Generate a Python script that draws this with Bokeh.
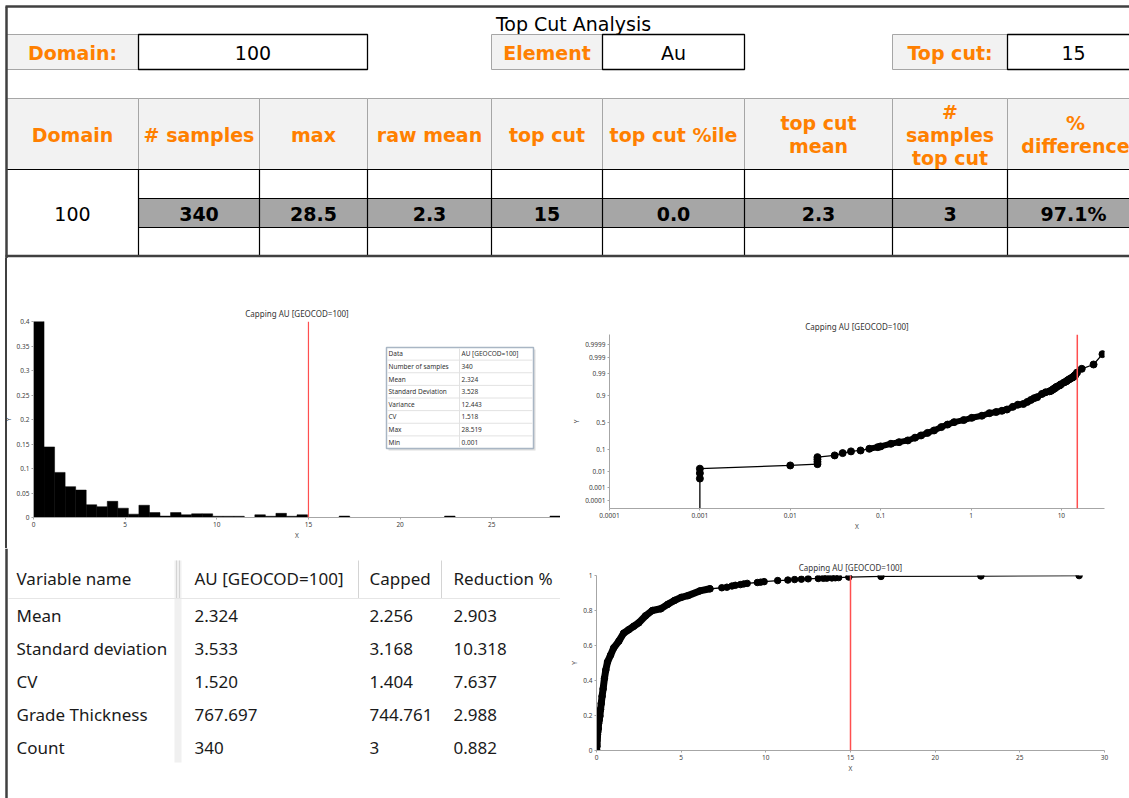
import numpy as np
from statistics import NormalDist
from bokeh.plotting import figure
from bokeh.layouts import column, row
from bokeh.models import Range1d, FixedTicker, Span
from bokeh.core.properties import value
from bokeh.embed import file_html
from bokeh.resources import INLINE

# ------------------------------------------------------------------ data
report_title = "Top Cut Analysis"
domain_label = "Domain:"
domain_value = "100"
element_label = "Element"
element_value = "Au"
topcut_label = "Top cut:"
topcut_value = 15

header_labels = ["Domain", "# samples", "max", "raw mean", "top cut", "top cut %ile",
                 "top cut\nmean", "#\nsamples\ntop cut", "%\ndifference"]
row_domain = "100"
row_values = ["340", "28.5", "2.3", "15", "0.0", "2.3", "3", "97.1%"]

chart_title = "Capping AU [GEOCOD=100]"

# histogram (relative frequency per bin)
hist_bin_width = 0.575
hist_freq = [0.42, 0.144, 0.092, 0.063, 0.056, 0.026, 0.022, 0.033, 0.019, 0.0068,
             0.025, 0.010, 0.0029, 0.010, 0.0055, 0.0075, 0.0075, 0.0025, 0.0025, 0.0025,
             0.0, 0.0055, 0.0025, 0.0085, 0.0025, 0.0055, 0.0, 0.0, 0.0, 0.0029,
             0.0, 0.0, 0.0, 0.0, 0.0, 0.0, 0.0, 0.0, 0.0, 0.0029,
             0.0, 0.0, 0.0, 0.0, 0.0, 0.0, 0.0, 0.0, 0.0, 0.0029]
hist_yticks = [0, 0.05, 0.1, 0.15, 0.2, 0.25, 0.3, 0.35, 0.4]
hist_ytick_labels = ["0", "0.05", "0.1", "0.15", "0.2", "0.25", "0.3", "0.35", "0.4"]

stats_labels = ["Data", "Number of samples", "Mean", "Standard Deviation", "Variance", "CV", "Max", "Min"]
stats_values = ["AU [GEOCOD=100]", "340", "2.324", "3.528", "12.443", "1.518", "28.519", "0.001"]

grade = [0.001, 0.001, 0.001, 0.001, 0.01, 0.02, 0.02, 0.02, 0.02, 0.031,
         0.038, 0.047, 0.06, 0.075, 0.093, 0.10, 0.13, 0.16, 0.2, 0.24,
         0.28, 0.33, 0.39, 0.47, 0.55, 0.65, 0.83, 1.02, 1.32, 1.6,
         1.9, 2.2, 2.5, 2.9, 3.3, 3.8, 4.2, 4.6, 5.0, 5.4,
         6.1, 6.7, 7.4, 7.7, 8.0, 8.2, 8.5, 8.7, 8.9, 9.5,
         9.7, 9.9, 10.7, 11.3, 11.7, 12.1, 12.5, 13.1, 13.4, 13.6,
         13.9, 14.1, 14.3, 14.9, 16.8, 22.7, 28.5]
cum_prob = [0.00001, 0.0039, 0.0081, 0.0142, 0.0207, 0.024, 0.031, 0.040, 0.050, 0.059,
            0.073, 0.085, 0.092, 0.106, 0.121, 0.128, 0.156, 0.175, 0.197, 0.235,
            0.269, 0.31, 0.352, 0.413, 0.46, 0.506, 0.545, 0.587, 0.625, 0.67,
            0.69, 0.71, 0.73, 0.77, 0.80, 0.81, 0.835, 0.857, 0.875, 0.885,
            0.912, 0.924, 0.930, 0.933, 0.940, 0.944, 0.948, 0.952, 0.955, 0.960,
            0.962, 0.965, 0.971, 0.974, 0.977, 0.979, 0.981, 0.983, 0.984, 0.985,
            0.986, 0.987, 0.988, 0.991, 0.9945, 0.997, 0.9994]

prob_ticks = [0.0001, 0.001, 0.01, 0.1, 0.5, 0.9, 0.99, 0.999, 0.9999]
prob_tick_labels = ["0.0001", "0.001", "0.01", "0.1", "0.5", "0.9", "0.99", "0.999", "0.9999"]
log_ticks = [0.0001, 0.001, 0.01, 0.1, 1, 10]
log_tick_labels = ["0.0001", "0.001", "0.01", "0.1", "1", "10"]
cdf_yticks = [0, 0.2, 0.4, 0.6, 0.8, 1]
cdf_ytick_labels = ["0", "0.2", "0.4", "0.6", "0.8", "1"]

summary_header = ["Variable name", "AU [GEOCOD=100]", "Capped", "Reduction %"]
var_names = ["Mean", "Standard deviation", "CV", "Grade Thickness", "Count"]
au_col = ["2.324", "3.533", "1.520", "767.697", "340"]
capped_col = ["2.256", "3.168", "1.404", "744.761", "3"]
reduction_col = ["2.903", "10.318", "7.637", "2.988", "0.882"]

# ------------------------------------------------------------------ styles
ORANGE = "#FF8000"
BORDER = "#404040"
TFONT = value("DejaVu Sans")
CFONT = "Noto Sans"
RED = "#FF4F4F"


def canvas(w, h, x0, x1, y0, y1):
    p = figure(width=w, height=h, x_range=Range1d(x0, x1), y_range=Range1d(y1, y0),
               x_axis_location=None, y_axis_location=None, output_backend="svg",
               toolbar_location=None, min_border=0)
    p.min_border_left = p.min_border_right = p.min_border_top = p.min_border_bottom = 0
    p.frame_align = False
    p.grid.visible = False
    p.outline_line_color = None
    return p


def style_chart(p, title_offset):
    p.frame_align = False
    p.grid.visible = False
    p.outline_line_color = None
    p.title.text = chart_title
    p.title.align = "center"
    p.title.offset = title_offset
    p.title.text_font = CFONT
    p.title.text_font_size = "8px"
    p.title.text_font_style = "normal"
    p.title.text_color = "#333333"
    p.title.standoff = 5
    for ax in p.axis:
        ax.axis_line_color = "#A6A6A6"
        ax.major_tick_line_color = "#A6A6A6"
        ax.minor_tick_line_color = None
        ax.major_tick_out = 2
        ax.major_tick_in = 0
        ax.major_label_text_font = CFONT
        ax.major_label_text_font_size = "6.5px"
        ax.major_label_text_color = "#404040"
        ax.axis_label_text_font = CFONT
        ax.axis_label_text_font_size = "6.5px"
        ax.axis_label_text_font_style = "normal"
        ax.axis_label_text_color = "#404040"
        ax.major_label_standoff = 2
        ax.axis_label_standoff = 1
    p.xaxis.axis_label = "X"
    p.yaxis.axis_label = "Y"


# ------------------------------------------------------------------ top table
top = canvas(1129, 258, 0, 1129, 0, 258)
col_x = [6, 138, 259, 367, 491, 602, 744, 892, 1007, 1131]

top.text(x=[573], y=[23], text=[report_title], text_font=TFONT, text_font_size="19px",
         text_align="center", text_baseline="middle", text_color="#000000")

lab_l = [6, 491, 892]
lab_r = [138, 602, 1007]
val_l = [138, 602, 1007]
val_r = [367, 744, 1131]
top.quad(left=lab_l, right=lab_r, top=34, bottom=69, fill_color="#F2F2F2",
         line_color="#A6A6A6", line_width=1)
top.quad(left=val_l, right=val_r, top=34, bottom=69, fill_color="#FFFFFF",
         line_color="#000000", line_width=1.3)
lab_cx = [(a + b) / 2 for a, b in zip(lab_l, lab_r)]
val_cx = [(a + b) / 2 for a, b in zip(val_l, val_r)]
val_cx[-1] = 1073
top.text(x=lab_cx, y=[52] * 3, text=[domain_label, element_label, topcut_label],
         text_font=TFONT, text_font_size="19px", text_font_style="bold",
         text_align="center", text_baseline="middle", text_color=ORANGE)
top.text(x=val_cx, y=[52] * 3, text=[domain_value, element_value, str(topcut_value)],
         text_font=TFONT, text_font_size="19px", text_align="center",
         text_baseline="middle", text_color="#000000")

# header row
top.quad(left=col_x[:-1], right=col_x[1:], top=98, bottom=169, fill_color="#F2F2F2",
         line_color="#A6A6A6", line_width=1)
hx, hy, ht = [], [], []
for i, lab in enumerate(header_labels):
    lines = lab.split("\n")
    n = len(lines)
    cx = (col_x[i] + col_x[i + 1]) / 2
    if i == len(header_labels) - 1:
        cx = 1075
    for j, ln in enumerate(lines):
        hx.append(cx)
        hy.append(134 + (j - (n - 1) / 2) * 23)
        ht.append(ln)
top.text(x=hx, y=hy, text=ht, text_font=TFONT, text_font_size="19px", text_font_style="bold",
         text_align="center", text_baseline="middle", text_color=ORANGE)

# data rows
top.quad(left=col_x[1:-1], right=col_x[2:], top=198, bottom=227, fill_color="#A6A6A6",
         line_color=None)
top.segment(x0=[6, 138, 138], x1=[1131, 1131, 1131], y0=[169, 198, 227], y1=[169, 198, 227],
            line_color="#000000", line_width=1.2)
top.segment(x0=col_x[1:-1], x1=col_x[1:-1], y0=[169] * 8, y1=[255] * 8,
            line_color="#000000", line_width=1.2)
dcx = [(col_x[i] + col_x[i + 1]) / 2 for i in range(1, 9)]
dcx[-1] = 1073
top.text(x=dcx, y=[213] * 8, text=row_values, text_font=TFONT, text_font_size="19px",
         text_font_style="bold", text_align="center", text_baseline="middle", text_color="#000000")
top.text(x=[72], y=[213], text=[row_domain], text_font=TFONT, text_font_size="19px",
         text_align="center", text_baseline="middle", text_color="#000000")

# outer borders
top.segment(x0=[5, 5, 6], x1=[1131, 1131, 6], y0=[6, 255.5, 6], y1=[6, 255.5, 258],
            line_color=BORDER, line_width=2.5)

# ------------------------------------------------------------------ histogram
hist = figure(width=560, height=290, x_range=Range1d(0, 28.75), y_range=Range1d(0, 0.4),
              output_backend="svg", toolbar_location=None, border_fill_alpha=0,
              min_border_left=33, min_border_right=0, min_border_top=63, min_border_bottom=31)
hist.styles = {"background": "linear-gradient(to right, #ffffff 0px, #ffffff 5px, #404040 5px, "
                             "#404040 7px, #ffffff 7px, #ffffff 100%)"}
style_chart(hist, -11)
freq = np.array(hist_freq)
edges = np.arange(len(freq) + 1) * hist_bin_width
m = freq > 0
hist.quad(left=edges[:-1][m], right=edges[1:][m], top=freq[m], bottom=0,
          fill_color="#000000", line_color="#000000", line_width=0.5)
hist.xaxis.ticker = FixedTicker(ticks=[0, 5, 10, 15, 20, 25])
hist.yaxis.ticker = FixedTicker(ticks=hist_yticks)
hist.yaxis.major_label_overrides = {t: l for t, l in zip(hist_yticks, hist_ytick_labels)}
hist.add_layout(Span(location=topcut_value, dimension="height", line_color=RED, line_width=1.2))

# statistics box (frame pixel coordinates)
hist.extra_x_ranges = {"px": Range1d(33, 560)}
hist.extra_y_ranges = {"px": Range1d(517, 321)}
bx0, bx1, by0, by1, bsplit = 386, 533, 347, 448, 459
rh = (by1 - by0) / len(stats_labels)
hist.quad(left=[bx0 + 2], right=[bx1 + 2], top=[by0 + 2], bottom=[by1 + 2], fill_color="#C8C8C8",
          fill_alpha=0.6, line_color=None, x_range_name="px", y_range_name="px")
hist.quad(left=[bx0], right=[bx1], top=[by0], bottom=[by1], fill_color="#FFFFFF",
          line_color="#A9B6C4", line_width=1.5, x_range_name="px", y_range_name="px")
ry = [by0 + rh * (i + 1) for i in range(len(stats_labels) - 1)]
hist.segment(x0=[bx0 + 1] * len(ry), x1=[bx1 - 1] * len(ry), y0=ry, y1=ry, line_color="#E2E2E2",
             line_width=1, x_range_name="px", y_range_name="px")
hist.segment(x0=[bsplit], x1=[bsplit], y0=[by0 + 1], y1=[by1 - 1], line_color="#E2E2E2",
             line_width=1, x_range_name="px", y_range_name="px")
rc = [by0 + rh * (i + 0.5) for i in range(len(stats_labels))]
hist.text(x=[bx0 + 2] * len(rc), y=rc, text=stats_labels, text_font=value(CFONT),
          text_font_size="6.5px", text_baseline="middle", text_color="#333333",
          x_range_name="px", y_range_name="px")
hist.text(x=[bsplit + 2] * len(rc), y=rc, text=stats_values, text_font=value(CFONT),
          text_font_size="6.5px", text_baseline="middle", text_color="#333333",
          x_range_name="px", y_range_name="px")

# ------------------------------------------------------------------ summary table
summ = canvas(560, 250, 0, 560, 548, 798)
summ.segment(x0=[6], x1=[6], y0=[548], y1=[798], line_color=BORDER, line_width=2.5)
summ.quad(left=[174], right=[181], top=[560], bottom=[762], fill_color="#F0F0F0", line_color=None)
summ.segment(x0=[176, 179, 358, 441], x1=[176, 179, 358, 441], y0=[560] * 4, y1=[598] * 4,
             line_color="#D4D4D4", line_width=1)
summ.segment(x0=[8], x1=[562], y0=[598], y1=[598], line_color="#E6E6E6", line_width=1)
col_tx = [16, 194, 369, 453]
summ.text(x=col_tx, y=[578] * 4, text=summary_header, text_font=value(CFONT), text_font_size="17px",
          text_baseline="middle", text_color="#1A1A1A")
row_y = [615 + 33 * i for i in range(len(var_names))]
for cx, vals in zip(col_tx, [var_names, au_col, capped_col, reduction_col]):
    summ.text(x=[cx] * len(vals), y=row_y, text=vals, text_font=value(CFONT), text_font_size="17px",
              text_baseline="middle", text_color="#1A1A1A")

# ------------------------------------------------------------------ probability plot
nd = NormalDist()
g = np.array(grade)
cp = np.array(cum_prob)
z = np.array([nd.inv_cdf(v) for v in cp])

prob = figure(width=569, height=282, x_axis_type="log", x_range=Range1d(1e-4, 30),
              y_range=Range1d(-4.08, 4.17), output_backend="svg", toolbar_location=None,
              min_border_left=49, min_border_right=25, min_border_top=76, min_border_bottom=32)
style_chart(prob, -27)
zt = [nd.inv_cdf(v) for v in prob_ticks]
prob.yaxis.ticker = FixedTicker(ticks=zt)
prob.yaxis.major_label_overrides = {t: l for t, l in zip(zt, prob_tick_labels)}
prob.xaxis.ticker = FixedTicker(ticks=log_ticks)
prob.xaxis.major_label_overrides = {t: l for t, l in zip(log_ticks, log_tick_labels)}
prob.line(g, z, line_color="#000000", line_width=1.3)
d = (g >= 0.075) & (g <= 14.9)
prob.line(g[d], z[d], line_color="#000000", line_width=6, line_cap="round", line_join="round")
prob.scatter(g, z, size=7, fill_color="#000000", line_color="#000000")
prob.add_layout(Span(location=topcut_value, dimension="height", line_color=RED, line_width=1.5))

# ------------------------------------------------------------------ CDF
cdf = figure(width=569, height=258, x_range=Range1d(0, 30), y_range=Range1d(0, 1),
             output_backend="svg", toolbar_location=None,
             min_border_left=36, min_border_right=25, min_border_top=35, min_border_bottom=48)
style_chart(cdf, -19)
cdf.xaxis.ticker = FixedTicker(ticks=[0, 5, 10, 15, 20, 25, 30])
cdf.yaxis.ticker = FixedTicker(ticks=cdf_yticks)
cdf.yaxis.major_label_overrides = {t: l for t, l in zip(cdf_yticks, cdf_ytick_labels)}
cdf.line(g, cp, line_color="#000000", line_width=1.3)
d2 = g <= 6.7
cdf.line(g[d2], cp[d2], line_color="#000000", line_width=7, line_cap="round", line_join="round")
cdf.scatter(g, cp, size=6.5, fill_color="#000000", line_color="#000000")
cdf.add_layout(Span(location=topcut_value, dimension="height", line_color=RED, line_width=1.5))

# ------------------------------------------------------------------ layout
bottom = row(column(hist, summ), column(prob, cdf))
page = column(top, bottom)

open("out.html", "w").write(file_html(page, INLINE))
